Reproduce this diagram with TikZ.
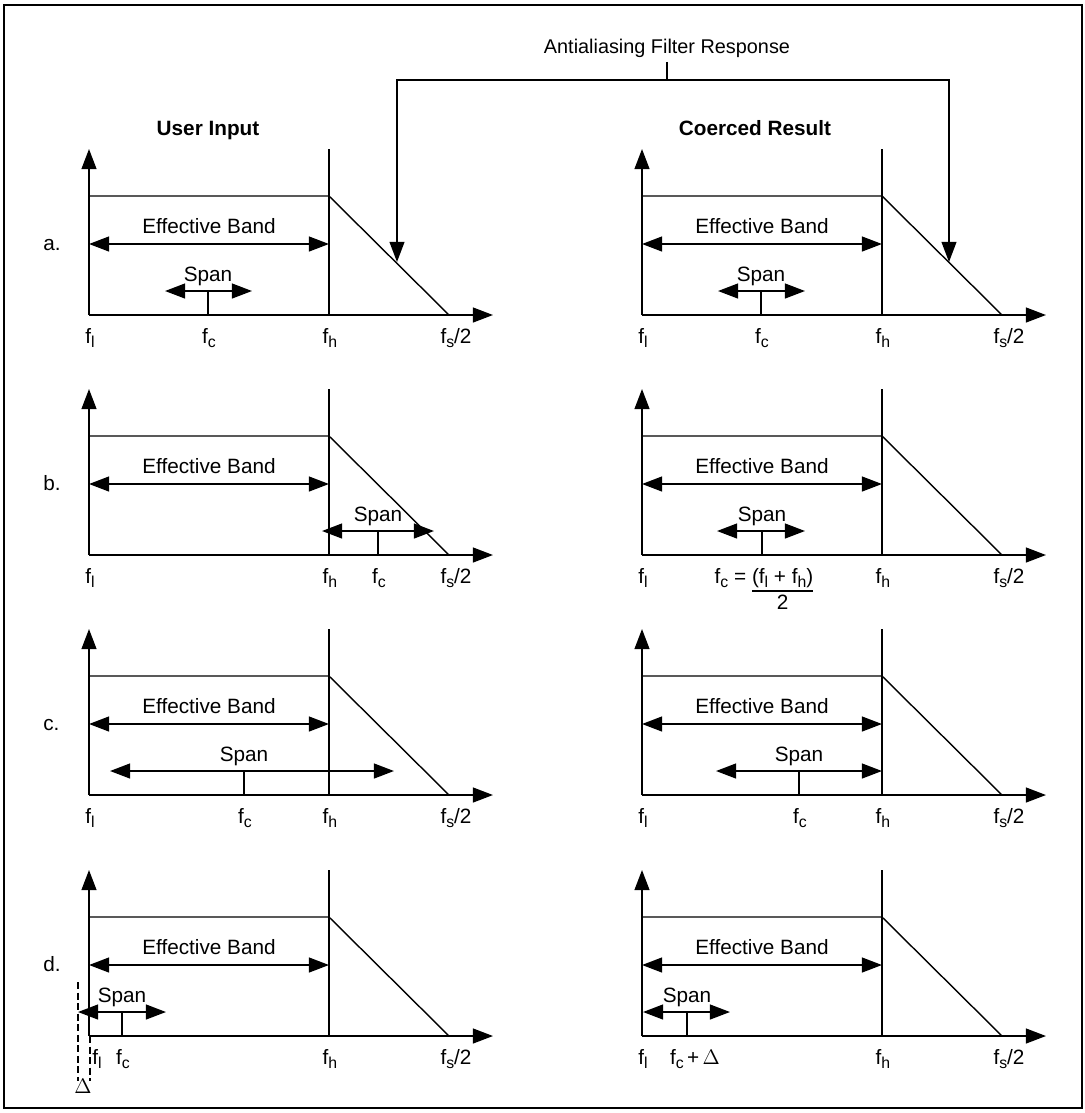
\documentclass[tikz,border=0pt]{standalone}
\usepackage{fontspec}
\setmainfont{Liberation Sans}
\usetikzlibrary{arrows.meta}
\newcommand{\fsub}[1]{\raisebox{-2.6pt}{\fontsize{9}{10}\selectfont #1}}

\begin{document}
\begin{tikzpicture}[x=0.02cm,y=-0.02cm,
        txt/.style={font=\fontsize{11.8}{14}\selectfont, inner sep=0pt, anchor=base},
        head/.style={txt, font=\fontsize{11.8}{14}\selectfont\bfseries},
        thin/.style={line width=0.8pt},
        axis/.style={line width=1pt, -{Triangle[length=11.5pt,width=8.5pt]}},
        band/.style={line width=1pt, {Triangle[length=11.5pt,width=8.5pt]}-{Triangle[length=11.5pt,width=8.5pt]}}]
        %\draw[gray] (0,0) grid[step=100] (1085,1113);
        \useasboundingbox (0,0) rectangle (1085,1113);
        \draw[line width=1.4pt] (4,5) rectangle (1082,1108);

        \node[txt,font=\fontsize{11.3}{14}\selectfont] (title) at (667,53) {Antialiasing Filter Response};
        \node[head] (userin) at (208,135) {User Input};
        \node[head] (coerced) at (755,135) {Coerced Result};

        \coordinate (fork) at (title.south |- 0,80);
        \coordinate (hitl) at (397,262);
        \coordinate (hitr) at (949,262);
        \draw[thin] ([yshift=-2.5pt]title.south) -- (fork);
        \draw[axis,line width=0.8pt] (fork) -| (hitl);
        \draw[axis,line width=0.8pt] (fork) -| (hitr);

        \foreach \ox in {89,642} {
            \foreach \oy in {315,555,795,1036} {
                \begin{scope}[shift={(\ox,\oy)}]
                    \draw[axis] (0,0) -- (0,-166);
                    \draw[axis] (0,0) -- (404,0);
                    \draw[thin] (0,-119) -- (240,-119) -- (360,0);
                    \draw[thin] (240,0) -- (240,-166);
                    \draw[band] (0,-71) -- (240,-71);
                    \node[txt] (eb-\ox-\oy) at (120,-82) {Effective Band};
                    \node[txt] (fh-\ox-\oy) at (241,28) {f\fsub{h}};
                    \node[txt] (fs-\ox-\oy) at (367,28) {f\fsub{s}/2};
                \end{scope}
            }
        }

        \node[txt,anchor=base west] (rowa) at (43,250) {a.};
        \node[txt,anchor=base west] (rowb) at (43,490) {b.};
        \node[txt,anchor=base west] (rowc) at (43,730) {c.};
        \node[txt,anchor=base west] (rowd) at (43,971) {d.};

        % a.
        \begin{scope}[shift={(89,315)}]
            \node[txt] (fl-al) at (1,28) {f\fsub{l}};
            \draw[band] (76,-24) -- (163,-24);
            \draw[thin] (119,-24) -- (119,0);
            \node[txt] (span-al) at (119,-34) {Span};
            \node[txt] (fc-al) at (120,28) {f\fsub{c}};
        \end{scope}
        \begin{scope}[shift={(642,315)}]
            \node[txt] (fl-ar) at (1,28) {f\fsub{l}};
            \draw[band] (76,-24) -- (163,-24);
            \draw[thin] (119,-24) -- (119,0);
            \node[txt] (span-ar) at (119,-34) {Span};
            \node[txt] (fc-ar) at (120,28) {f\fsub{c}};
        \end{scope}

        % b.
        \begin{scope}[shift={(89,555)}]
            \node[txt] (fl-bl) at (1,28) {f\fsub{l}};
            \draw[band] (233,-24) -- (345,-24);
            \draw[thin] (289,-24) -- (289,0);
            \node[txt] (span-bl) at (289,-34) {Span};
            \node[txt] (fc-bl) at (290,28) {f\fsub{c}};
        \end{scope}
        \begin{scope}[shift={(642,555)}]
            \node[txt] (fl-br) at (1,28) {f\fsub{l}};
            \draw[band] (75,-24) -- (163,-24);
            \draw[thin] (120,-24) -- (120,0);
            \node[txt] (span-br) at (120,-34) {Span};
            \node[txt] (fc-br) at (122,28) {\setlength{\arrayrulewidth}{0.8pt}f\fsub{c} = \begin{tabular}[t]{@{}c@{}}(f\fsub{l} + f\fsub{h})\\\hline 2\end{tabular}};
        \end{scope}

        % c.
        \begin{scope}[shift={(89,795)}]
            \node[txt] (fl-cl) at (1,28) {f\fsub{l}};
            \draw[band] (21,-24) -- (305,-24);
            \draw[thin] (155,-24) -- (155,0);
            \node[txt] (span-cl) at (155,-34) {Span};
            \node[txt] (fc-cl) at (156,28) {f\fsub{c}};
        \end{scope}
        \begin{scope}[shift={(642,795)}]
            \node[txt] (fl-cr) at (1,28) {f\fsub{l}};
            \draw[band] (74,-24) -- (240,-24);
            \draw[thin] (157,-24) -- (157,0);
            \node[txt] (span-cr) at (157,-34) {Span};
            \node[txt] (fc-cr) at (158,28) {f\fsub{c}};
        \end{scope}

        % d.
        \begin{scope}[shift={(89,1036)}]
            \node[txt] (fl-dl) at (8,28) {f\fsub{l}};
            \draw[thin,dash pattern=on 4pt off 2pt] (-11,-54) -- (-11,45);
            \draw[thin,dash pattern=on 4pt off 2pt] (1,0) -- (1,45);
            \node[txt] (delta) at (-6,57) {$\Delta$};
            \draw[band] (-11,-24) -- (77,-24);
            \draw[thin] (33,-24) -- (33,0);
            \node[txt] (span-dl) at (33,-34) {Span};
            \node[txt] (fc-dl) at (34,28) {f\fsub{c}};
        \end{scope}
        \begin{scope}[shift={(642,1036)}]
            \node[txt] (fl-dr) at (1,28) {f\fsub{l}};
            \draw[band] (1,-24) -- (88,-24);
            \draw[thin] (45,-24) -- (45,0);
            \node[txt] (span-dr) at (45,-34) {Span};
            \node[txt] (fc-dr) at (53,28) {f\fsub{c}\,+\,$\Delta$};
        \end{scope}
    \end{tikzpicture}
\end{document}
